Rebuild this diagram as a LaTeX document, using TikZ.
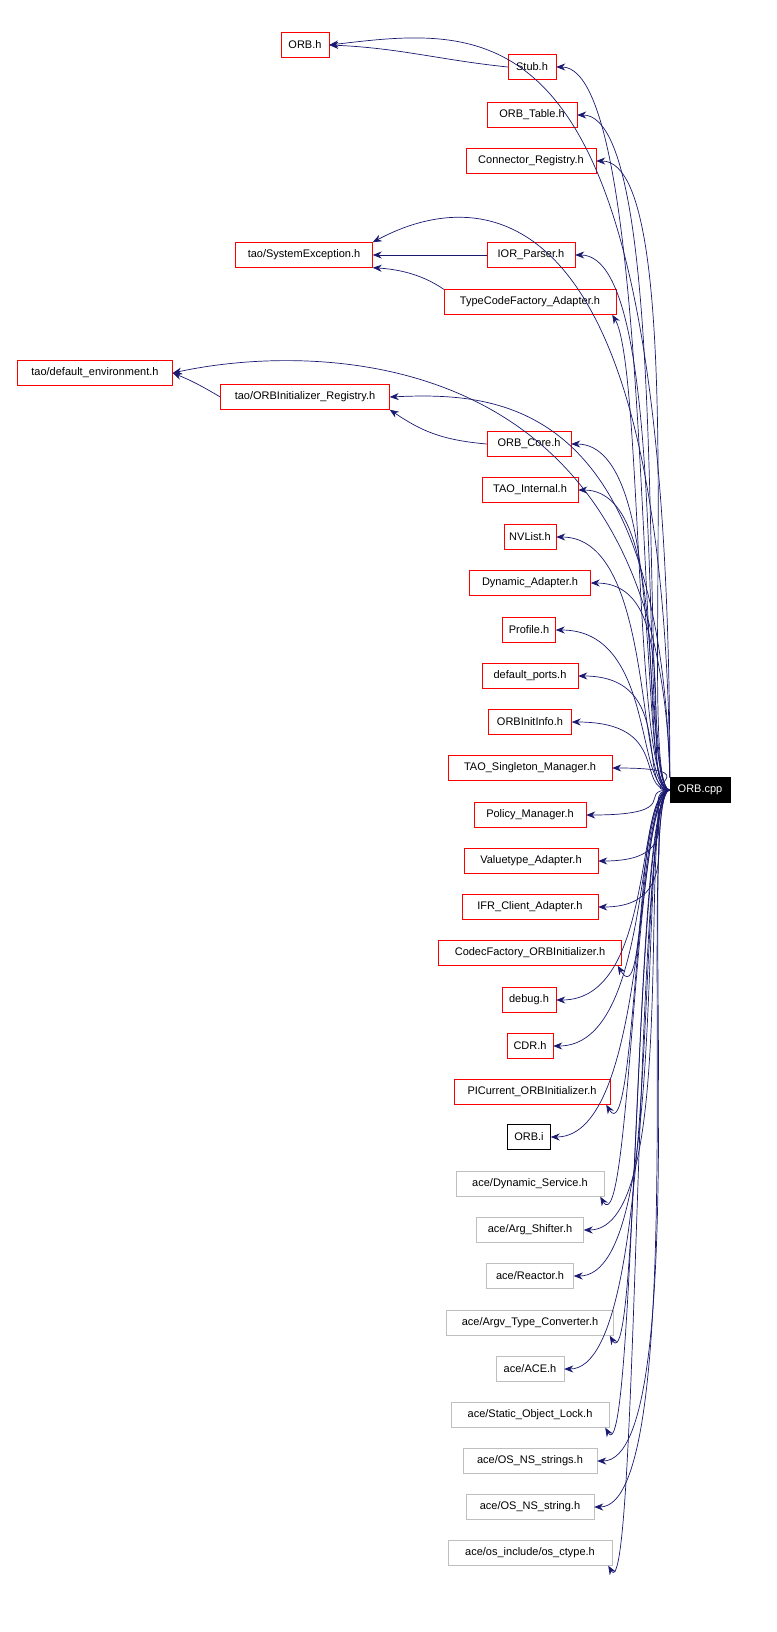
\documentclass[tikz,border=0pt]{standalone}
\usepackage{fontspec}
\setmainfont{Liberation Sans}
\usetikzlibrary{arrows.meta}
\definecolor{edgec}{RGB}{25,25,112}
\begin{document}
\begin{tikzpicture}[x=1pt,y=-1pt,
 box/.style={draw=red,fill=white,inner sep=0pt,minimum height=25pt,font=\fontsize{11}{13}\selectfont},
 gbox/.style={box,draw=black!25},
 kbox/.style={box,draw=black},
 e/.style={draw=edgec,-{Stealth[length=9pt,width=7pt]},line width=0.7pt}]
\useasboundingbox (0,0) rectangle (776,1632);
\def\B#1#2#3#4#5#6{\node[#1,minimum width=#4pt] (#2) at (#5,#6) {#3};}
\B{box}{orbh}{ORB.h}{48}{305}{45}
\B{box}{stub}{Stub.h}{48}{532}{67}
\B{box}{table}{ORB\_Table.h}{90}{532}{115}
\B{box}{conn}{Connector\_Registry.h}{130}{531}{161}
\B{box}{sysex}{tao/SystemException.h}{137}{304}{255}
\B{box}{ior}{IOR\_Parser.h}{88}{531}{255}
\B{box}{tcf}{TypeCodeFactory\_Adapter.h}{172}{530}{302}
\B{box}{defenv}{tao/default\_environment.h}{155}{95}{373}
\B{box}{oireg}{tao/ORBInitializer\_Registry.h}{169}{305}{397}
\B{box}{core}{ORB\_Core.h}{84}{529}{444}
\B{box}{internal}{TAO\_Internal.h}{96}{530}{490}
\B{box}{nvlist}{NVList.h}{52}{530}{537}
\B{box}{dyn}{Dynamic\_Adapter.h}{121}{530}{583}
\B{box}{profile}{Profile.h}{53}{529}{630}
\B{box}{ports}{default\_ports.h}{96}{530}{676}
\B{box}{oii}{ORBInitInfo.h}{83}{530}{722}
\B{box}{sing}{TAO\_Singleton\_Manager.h}{164}{530}{768}
\B{box}{pol}{Policy\_Manager.h}{112}{530}{815}
\B{box}{val}{Valuetype\_Adapter.h}{134}{531}{861}
\B{box}{ifr}{IFR\_Client\_Adapter.h}{136}{530}{907}
\B{box}{codec}{CodecFactory\_ORBInitializer.h}{183}{530}{953}
\B{box}{debug}{debug.h}{54}{529}{1000}
\B{box}{cdr}{CDR.h}{46}{530}{1046}
\B{box}{pic}{PICurrent\_ORBInitializer.h}{156}{532}{1092}
\B{kbox}{orbi}{ORB.i}{43}{529}{1137}
\B{gbox}{ads}{ace/Dynamic\_Service.h}{148}{530}{1184}
\B{gbox}{aas}{ace/Arg\_Shifter.h}{107}{530}{1230}
\B{gbox}{are}{ace/Reactor.h}{87}{530}{1276}
\B{gbox}{atc}{ace/Argv\_Type\_Converter.h}{167}{530}{1323}
\B{gbox}{aace}{ace/ACE.h}{68}{530}{1369}
\B{gbox}{asol}{ace/Static\_Object\_Lock.h}{158}{530}{1415}
\B{gbox}{astrs}{ace/OS\_NS\_strings.h}{134}{530}{1461}
\B{gbox}{astr}{ace/OS\_NS\_string.h}{128}{530}{1507}
\B{gbox}{actype}{ace/os\_include/os\_ctype.h}{164}{530}{1553}
\node[box,draw=black,fill=black,text=white,minimum width=60pt] (cpp) at (700,790) {ORB.cpp};
% long arcs
\draw[e] (cpp.north west) .. controls (670,0) and (500,25) .. (orbh.east);
\draw[e] (cpp.north west) .. controls (665,170) and (470,190) .. (sysex.north east);
\draw[e] (cpp.north west) .. controls (660,330) and (300,345) .. (defenv.east);
\draw[e] (cpp.north west) .. controls (660,400) and (500,392) .. (oireg.east);
% other deps
\draw[e] (stub.west) .. controls (440,60) and (400,48) .. (orbh.east);
\draw[e] (ior) -- (sysex);
\draw[e] (tcf.north west) .. controls (430,280) and (410,270) .. (sysex.south east);
\draw[e] (oireg.west) .. controls (200,385) and (190,380) .. (defenv.east);
\draw[e] (core.west) .. controls (440,440) and (420,430) .. (oireg.south east);
% from cpp
\foreach \t in {stub,table,conn,ior,core,internal,nvlist,dyn,profile,ports,oii,sing,pol,val,ifr,debug,cdr,orbi,aas,are,aace,astrs,astr}
  \draw[e] (cpp.west) .. controls +(-35,0) and +(100,0) .. (\t.east);
\foreach \t in {tcf,codec,pic,ads,atc,asol,actype}
  \draw[e] (cpp.west) .. controls +(-35,0) and +(30,50) .. ([xshift=-4pt]\t.south east);
\end{tikzpicture}
\end{document}
